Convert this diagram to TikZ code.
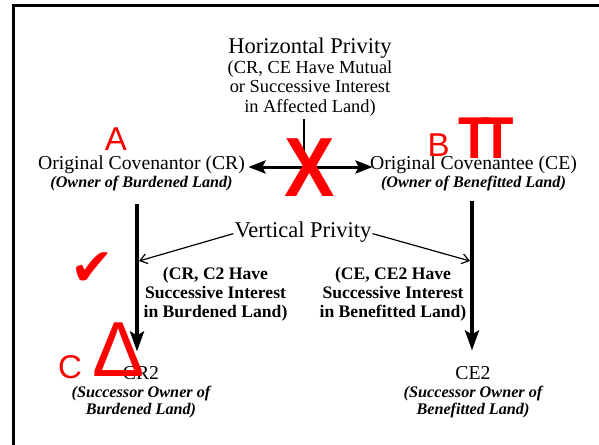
\documentclass[tikz,border=0pt]{standalone}
\usepackage{fontspec}
\setmainfont{Liberation Serif}
\newfontfamily\marksans{Liberation Sans}
\newfontfamily\marksym{DejaVu Sans}
\usetikzlibrary{arrows.meta,positioning}
\definecolor{ink}{HTML}{000000}
\definecolor{markred}{HTML}{FF0000}
\tikzset{
  headline/.style={font=\fontsize{22.5}{24}\selectfont,anchor=base,inner sep=1pt},
  party/.style={font=\fontsize{19.7}{22}\selectfont,anchor=base},
  owner/.style={font=\fontsize{16.2}{16.8}\selectfont\bfseries\itshape,
                anchor=base,align=center},
  hpnote/.style={font=\fontsize{18.4}{19.2}\selectfont,anchor=base,align=center},
  succnote/.style={font=\fontsize{17.6}{18.6}\selectfont\bfseries,
                   anchor=base,align=center},
  redmark/.style={text=markred,inner sep=0pt},
  duo/.style={{Stealth[length=17pt,width=13pt,inset=3pt]}-{Stealth[length=17pt,width=13pt,inset=3pt]},
              line width=3pt,ink},
  chain/.style={-{Stealth[length=20pt,width=14pt,inset=4pt]},line width=3.5pt,ink},
  pointer/.style={-{Straight Barb[length=7pt,width=10pt]},line width=1.2pt,ink},
}

\begin{document}
\begin{tikzpicture}[x=1pt,y=-1pt]
  \useasboundingbox (0,0) rectangle (599,444);
  % slide frame
  \draw[ink,line width=3pt] (13.5,446) -- (13.5,5.5) -- (601,5.5);

  % Horizontal privity (multi-line nodes sit on their last baseline)
  \node[headline] (hp) at (310,54) {Horizontal Privity};
  \node[hpnote] (hpnote) at (310,112)
    {(CR, CE Have Mutual\\or Successive Interest\\in Affected Land)};

  % original parties
  \node[party] (cr) at (141.5,169) {Original Covenantor (CR)};
  \node[owner] (crown) at (141.5,187) {(Owner of Burdened Land)};
  \node[party] (ce) at (473.5,169) {Original Covenantee (CE)};
  \node[owner] (ceown) at (473.5,187) {(Owner of Benefitted Land)};

  \coordinate (hjoin) at (304,167);
  \draw[ink,line width=1.8pt] (hjoin |- hpnote.south) -- (hjoin);
  \draw[duo,shorten >=-6pt] (cr.east |- hjoin) -- (ce.west |- hjoin);

  % successors
  \node[party] (cr2) at (141,379) {CR2};
  \node[owner] (cr2own) at (141,414) {(Successor Owner of\\Burdened Land)};
  \node[party] (ce2) at (473,379) {CE2};
  \node[owner] (ce2own) at (473,414) {(Successor Owner of\\Benefitted Land)};

  \draw[chain,shorten <=10pt,shorten >=11pt]
    ([xshift=-4.5pt]crown.south) -- ([xshift=-4pt]cr2.north);
  \draw[chain,shorten <=7pt,shorten >=12pt]
    ([xshift=-1.5pt]ceown.south) -- ([xshift=-1pt]ce2.north);

  % Vertical privity
  \node[headline] (vp) at (303,237) {Vertical Privity};
  \coordinate (lhit) at (139,261);
  \coordinate (rhit) at (470,261);
  \draw[pointer] ([yshift=-2pt]vp.west) -- (lhit);
  \draw[pointer] ([yshift=-2pt]vp.east) -- (rhit);

  \node[succnote] (lnote) at (215.5,317)
    {(CR, C2 Have\\Successive Interest\\in Burdened Land)};
  \node[succnote] (rnote) at (393,317)
    {(CE, CE2 Have\\Successive Interest\\in Benefitted Land)};

  % red marks on top
  \node[redmark,font=\marksans\fontsize{33}{33}\selectfont] (markA) at (116,139) {A};
  \node[redmark,font=\marksans\fontsize{33}{33}\selectfont] (markB) at (438.5,145) {B};
  \node[redmark,font=\marksans\bfseries\fontsize{59}{59}\selectfont] (markT) at (486,138)
    {\scalebox{0.9}[1]{T\kern-10pt T}};
  \node[redmark,font=\marksans\bfseries\fontsize{84}{84}\selectfont] (markX) at (310,168)
    {\scalebox{0.9}[1]{X}};
  \node[redmark,font=\marksym\fontsize{52}{52}\selectfont] (markV) at (92,269) {✔};
  \node[redmark,font=\marksans\fontsize{33}{33}\selectfont] (markC) at (70,367) {C};
  \node[redmark,font=\marksans\fontsize{78}{78}\selectfont] (markD) at (118.5,350) {Δ};
\end{tikzpicture}
\end{document}
